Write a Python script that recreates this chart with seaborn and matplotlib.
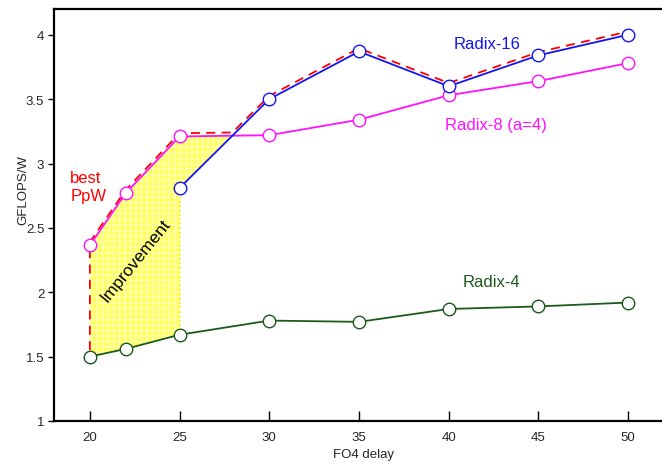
import numpy as np
import pandas as pd
import matplotlib
matplotlib.use("Agg")
import matplotlib.pyplot as plt
import seaborn as sns

# ---- data ----
fo4_delay = [20, 22, 25, 30, 35, 40, 45, 50]
radix4 = [1.50, 1.56, 1.67, 1.78, 1.77, 1.87, 1.89, 1.92]
radix8 = [2.365, 2.77, 3.21, 3.22, 3.34, 3.53, 3.64, 3.78]
fo4_radix16 = [25, 30, 35, 40, 45, 50]
radix16 = [2.81, 3.50, 3.87, 3.60, 3.84, 4.00]
best_offset = 0.025
x_ticks = [20, 25, 30, 35, 40, 45, 50]
y_ticks = [1, 1.5, 2, 2.5, 3, 3.5, 4]
y_tick_labels = ["1", "1.5", "2", "2.5", "3", "3.5", "4"]

C_BLUE = "#1414f0"
C_MAG = "#ff10ff"
C_GREEN = "#1c5a1c"
C_RED = "#ff0000"

sns.set_style("white")
plt.rcParams["font.family"] = ["Liberation Sans", "DejaVu Sans"]

fig = plt.figure(figsize=(6.62, 4.64), dpi=100)
ax = fig.add_axes([54 / 662, 1 - 422 / 464, 610 / 662, 412 / 464])

# crossing of radix-8 and radix-16 between 25 and 30
i8a, i8b = fo4_delay.index(25), fo4_delay.index(30)
x0, x1 = 25, 30
a8, b8 = radix8[i8a], radix8[i8b]
a16, b16 = radix16[0], radix16[1]
t = (a8 - a16) / ((b16 - a16) - (b8 - a8))
xc = x0 + t * (x1 - x0)
yc = a8 + t * (b8 - a8)

# improvement region
i25 = fo4_delay.index(25)
poly_x = [fo4_delay[0]] + fo4_delay[:i25 + 1] + [xc, 25] + fo4_delay[i25::-1]
poly_y = [radix4[0]] + radix8[:i25 + 1] + [yc, radix16[0]] + radix4[i25::-1]
ax.fill(poly_x, poly_y, facecolor="#ffff60", edgecolor="none", zorder=1)
ax.fill(poly_x, poly_y, facecolor="none", edgecolor="#ffffb0", hatch="+++",
        linewidth=0, zorder=1.1)
ax.plot([25, 25], [radix4[i25], radix16[0]], color="#f4f000", lw=1.2, ls=":", zorder=1.2)

# best PpW envelope
best_x = [fo4_delay[0]] + fo4_delay[:i25 + 1] + [xc] + fo4_radix16[1:]
best_y = ([radix4[0] + 0.05] + [v + best_offset for v in radix8[:i25 + 1]]
          + [yc + best_offset] + [v + best_offset for v in radix16[1:]])
sns.lineplot(x=best_x, y=best_y, sort=False, estimator=None, ax=ax, color=C_RED,
             lw=1.3, dashes=False, zorder=2)
ax.lines[-1].set_dashes([5, 3.5])

common = dict(marker="o", markersize=9, markerfacecolor="white", markeredgewidth=1.0,
              lw=1.3, estimator=None, sort=False, ax=ax)
sns.lineplot(x=fo4_delay, y=radix4, color=C_GREEN, markeredgecolor=C_GREEN, zorder=3, **common)
sns.lineplot(x=fo4_delay, y=radix8, color=C_MAG, markeredgecolor=C_MAG, zorder=3, **common)
sns.lineplot(x=fo4_radix16, y=radix16, color=C_BLUE, markeredgecolor=C_BLUE, zorder=4, **common)

ax.set_xlim(18, 52)
ax.set_ylim(1, 4.2)
ax.set_xticks(x_ticks)
ax.set_xticklabels([str(v) for v in x_ticks])
ax.set_yticks(y_ticks)
ax.set_yticklabels(y_tick_labels)
ax.tick_params(axis="x", bottom=True, top=False, direction="in", length=7, width=1.0,
               color="black", labelsize=9.5, pad=7)
ax.tick_params(axis="y", left=True, right=False, direction="out", length=4, width=1.0,
               color="black", labelsize=9.5, pad=3)
for s in ["left", "bottom", "top"]:
    ax.spines[s].set_linewidth(1.6)
    ax.spines[s].set_color("black")
ax.spines["right"].set_visible(False)

ax.set_xlabel("FO4 delay", fontsize=9.5)
ax.set_ylabel("GFLOPS/W", fontsize=9.5)
ax.xaxis.set_label_coords(0.507, -0.066)
ax.yaxis.set_label_coords(-0.041, 0.563)

ax.text(18.9, 2.82, "best\nPpW", color=C_RED, fontsize=12, ha="left", va="center",
        linespacing=1.2)
ax.text(22.55, 2.25, "Improvement", color="black", fontsize=12.5, rotation=51,
        ha="center", va="center", rotation_mode="anchor")
ax.text(42.15, 3.93, "Radix-16", color=C_BLUE, fontsize=12, ha="center", va="center")
ax.text(42.62, 3.30, "Radix-8 (a=4)", color=C_MAG, fontsize=12, ha="center", va="center")
ax.text(42.4, 2.08, "Radix-4", color=C_GREEN, fontsize=12, ha="center", va="center")

fig.savefig("out.png", dpi=100)
